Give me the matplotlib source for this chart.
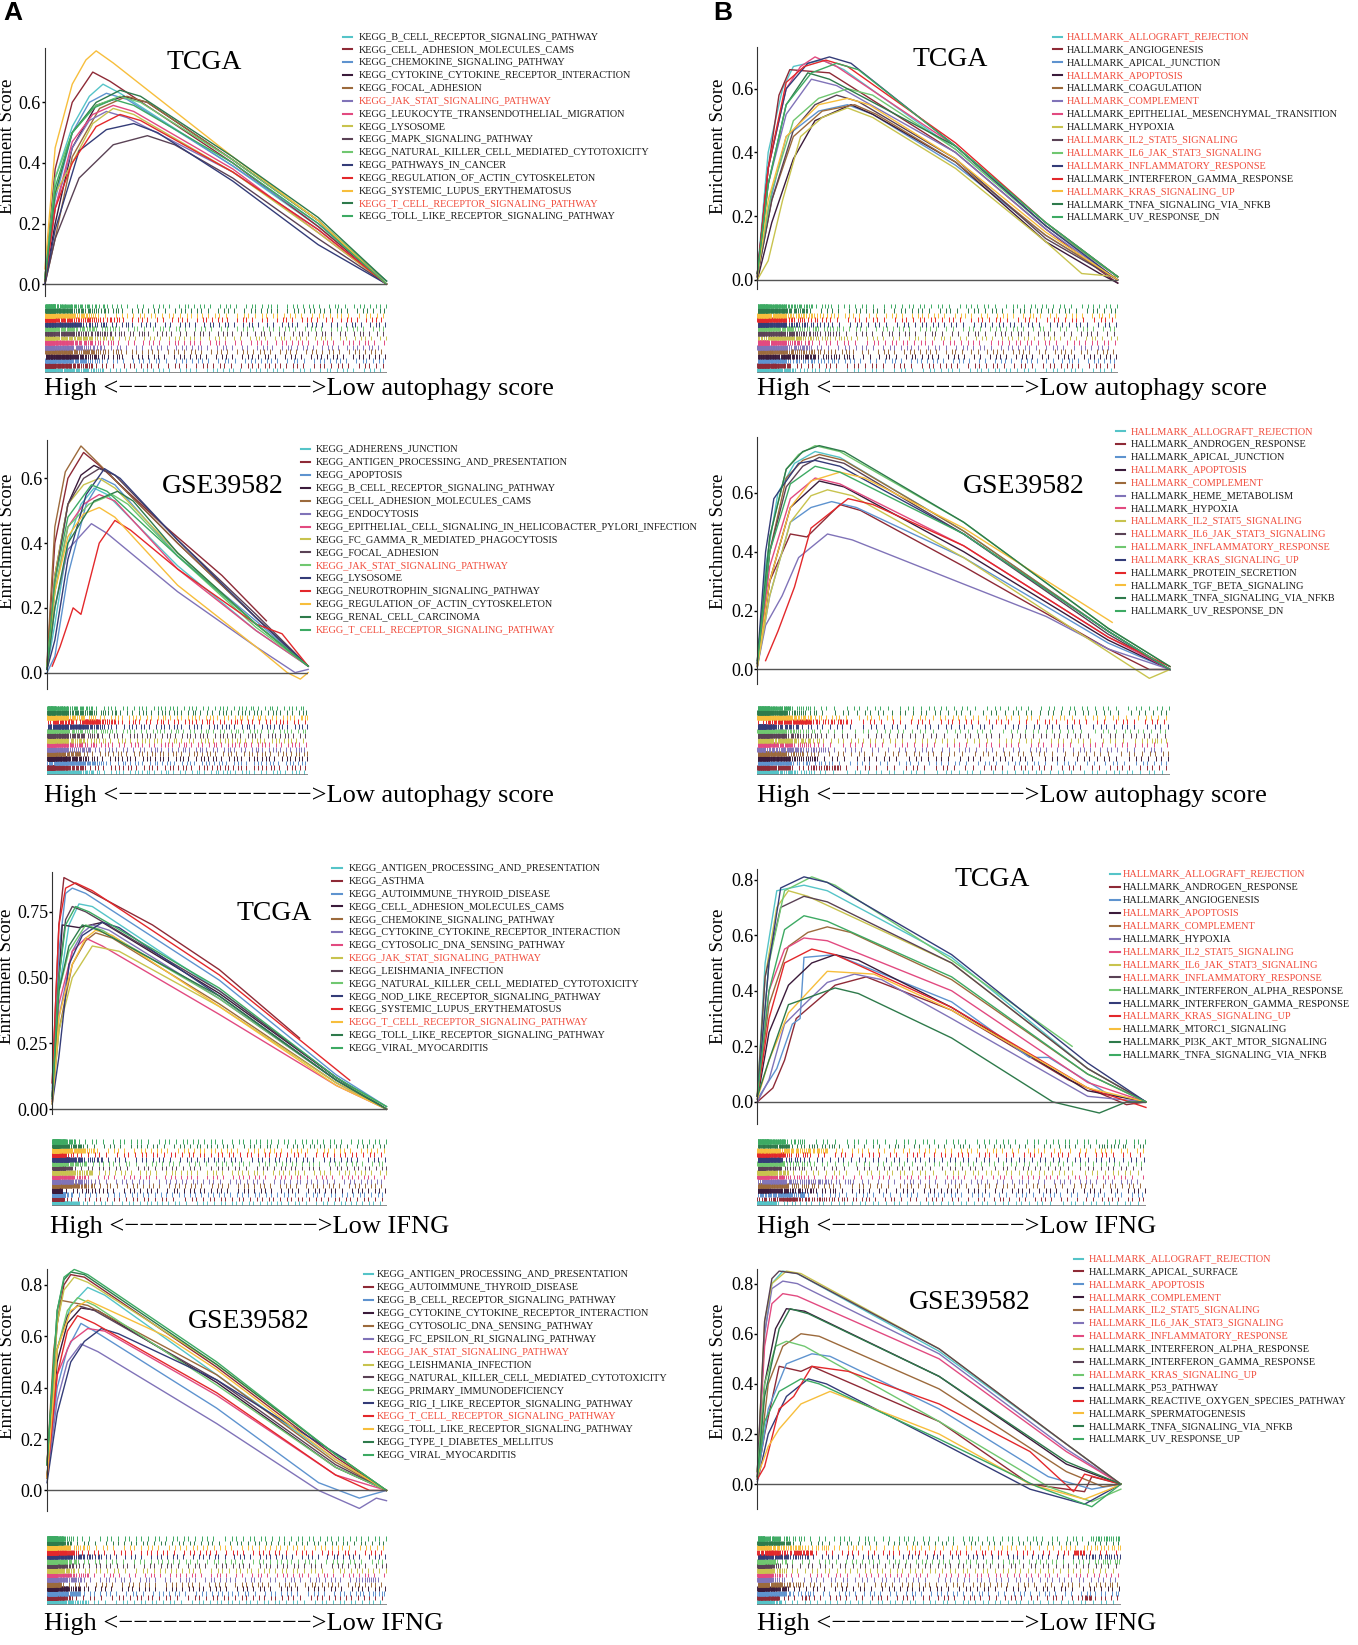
import matplotlib
matplotlib.use("Agg")
import matplotlib.pyplot as plt
from matplotlib.lines import Line2D
import numpy as np

plt.rcParams['font.family'] = ['Liberation Serif', 'DejaVu Serif']

# colour cycle used for the 15 gene sets of every panel
pal = ['#55C4C8', '#8E2A36', '#5E93CF', '#3B1B3B', '#9C6A3C', '#8073B8', '#E24A80',
       '#C8C34E', '#5A4255', '#70C770', '#343C78', '#E3282B', '#F7BE3C', '#2E7A4B', '#3DAA63']
red_txt = '#F04A3A'

# ---------------- data ----------------
a1_names = ['KEGG_B_CELL_RECEPTOR_SIGNALING_PATHWAY', 'KEGG_CELL_ADHESION_MOLECULES_CAMS',
            'KEGG_CHEMOKINE_SIGNALING_PATHWAY', 'KEGG_CYTOKINE_CYTOKINE_RECEPTOR_INTERACTION',
            'KEGG_FOCAL_ADHESION', 'KEGG_JAK_STAT_SIGNALING_PATHWAY',
            'KEGG_LEUKOCYTE_TRANSENDOTHELIAL_MIGRATION', 'KEGG_LYSOSOME', 'KEGG_MAPK_SIGNALING_PATHWAY',
            'KEGG_NATURAL_KILLER_CELL_MEDIATED_CYTOTOXICITY', 'KEGG_PATHWAYS_IN_CANCER',
            'KEGG_REGULATION_OF_ACTIN_CYTOSKELETON', 'KEGG_SYSTEMIC_LUPUS_ERYTHEMATOSUS',
            'KEGG_T_CELL_RECEPTOR_SIGNALING_PATHWAY', 'KEGG_TOLL_LIKE_RECEPTOR_SIGNALING_PATHWAY']
a1_red = [5, 13]
a1_curves = [
    [(0, .02), (.03, .35), (.08, .52), (.13, .62), (.17, .66), (.22, .63), (.55, .39), (.8, .19), (1, .01)],
    [(0, .02), (.03, .38), (.08, .60), (.14, .70), (.19, .67), (.55, .40), (.8, .19), (1, 0)],
    [(0, .01), (.03, .28), (.08, .50), (.13, .60), (.18, .63), (.24, .61), (.55, .39), (.8, .20), (1, .01)],
    [(0, .01), (.03, .20), (.08, .45), (.15, .59), (.23, .62), (.30, .60), (.55, .41), (.8, .21), (1, 0)],
    [(0, 0), (.03, .15), (.08, .42), (.16, .58), (.24, .62), (.30, .60), (.55, .41), (.8, .21), (1, 0)],
    [(0, .01), (.03, .25), (.08, .45), (.13, .54), (.18, .57), (.24, .55), (.55, .37), (.8, .18), (1, 0)],
    [(0, .01), (.03, .25), (.08, .47), (.14, .56), (.20, .59), (.26, .57), (.55, .38), (.8, .17), (1, 0)],
    [(0, .02), (.03, .30), (.08, .40), (.14, .53), (.20, .58), (.26, .56), (.55, .37), (.8, .17), (1, 0)],
    [(0, 0), (.03, .15), (.10, .35), (.20, .46), (.30, .49), (.38, .46), (.55, .35), (.8, .15), (1, 0)],
    [(0, .02), (.03, .35), (.08, .50), (.15, .59), (.22, .62), (.28, .60), (.55, .41), (.8, .21), (1, .01)],
    [(0, 0), (.03, .18), (.10, .44), (.18, .51), (.26, .53), (.33, .50), (.55, .34), (.8, .13), (1, 0)],
    [(0, .01), (.03, .25), (.08, .40), (.15, .52), (.22, .56), (.28, .54), (.55, .37), (.8, .18), (1, 0)],
    [(0, .05), (.03, .45), (.08, .66), (.12, .74), (.15, .77), (.20, .73), (.55, .42), (.8, .21), (1, 0)],
    [(0, .01), (.03, .30), (.08, .50), (.15, .60), (.22, .64), (.28, .62), (.55, .42), (.8, .22), (1, .01)],
    [(0, .02), (.03, .32), (.08, .50), (.14, .58), (.20, .61), (.26, .59), (.55, .40), (.8, .20), (1, 0)],
]

b1_names = ['HALLMARK_ALLOGRAFT_REJECTION', 'HALLMARK_ANGIOGENESIS', 'HALLMARK_APICAL_JUNCTION',
            'HALLMARK_APOPTOSIS', 'HALLMARK_COAGULATION', 'HALLMARK_COMPLEMENT',
            'HALLMARK_EPITHELIAL_MESENCHYMAL_TRANSITION', 'HALLMARK_HYPOXIA', 'HALLMARK_IL2_STAT5_SIGNALING',
            'HALLMARK_IL6_JAK_STAT3_SIGNALING', 'HALLMARK_INFLAMMATORY_RESPONSE',
            'HALLMARK_INTERFERON_GAMMA_RESPONSE', 'HALLMARK_KRAS_SIGNALING_UP',
            'HALLMARK_TNFA_SIGNALING_VIA_NFKB', 'HALLMARK_UV_RESPONSE_DN']
b1_red = [0, 3, 5, 8, 9, 10, 12]
b1_curves = [
    [(0, .02), (.03, .40), (.07, .60), (.10, .67), (.18, .69), (.24, .66), (.55, .41), (.8, .17), (1, .01)],
    [(0, .01), (.03, .35), (.06, .58), (.09, .66), (.20, .65), (.55, .40), (.8, .16), (.95, .03), (1, -.01)],
    [(0, .01), (.03, .22), (.08, .45), (.17, .53), (.25, .55), (.32, .52), (.55, .36), (.8, .14), (1, 0)],
    [(0, 0), (.04, .18), (.10, .38), (.16, .50), (.26, .55), (.32, .52), (.55, .37), (.8, .12), (.95, .02), (1, -.01)],
    [(0, .01), (.04, .25), (.10, .45), (.18, .53), (.27, .55), (.33, .52), (.55, .37), (.8, .14), (1, 0)],
    [(0, .01), (.03, .30), (.08, .52), (.15, .63), (.22, .61), (.55, .40), (.8, .16), (1, 0)],
    [(0, .02), (.03, .35), (.08, .60), (.12, .67), (.16, .70), (.22, .67), (.55, .42), (.8, .17), (1, .01)],
    [(0, 0), (.03, .06), (.07, .25), (.12, .45), (.18, .51), (.25, .54), (.32, .51), (.55, .35), (.8, .12), (.9, .02), (1, .01)],
    [(0, .01), (.04, .25), (.10, .47), (.16, .55), (.22, .58), (.28, .56), (.55, .38), (.8, .13), (1, 0)],
    [(0, .02), (.04, .28), (.10, .50), (.17, .57), (.25, .60), (.32, .58), (.55, .41), (.8, .17), (1, .01)],
    [(0, .02), (.03, .35), (.08, .60), (.14, .68), (.20, .70), (.26, .68), (.55, .42), (.8, .17), (1, 0)],
    [(0, .02), (.03, .35), (.08, .62), (.13, .67), (.19, .69), (.25, .67), (.55, .43), (.8, .18), (1, .01)],
    [(0, .01), (.03, .25), (.08, .45), (.17, .55), (.25, .57), (.31, .55), (.55, .38), (.8, .15), (1, 0)],
    [(0, .02), (.03, .30), (.08, .55), (.14, .65), (.20, .63), (.55, .42), (.8, .18), (1, .01)],
    [(0, .02), (.03, .30), (.08, .55), (.15, .65), (.22, .68), (.28, .66), (.55, .42), (.8, .18), (1, .01)],
]

a2_names = ['KEGG_ADHERENS_JUNCTION', 'KEGG_ANTIGEN_PROCESSING_AND_PRESENTATION', 'KEGG_APOPTOSIS',
            'KEGG_B_CELL_RECEPTOR_SIGNALING_PATHWAY', 'KEGG_CELL_ADHESION_MOLECULES_CAMS',
            'KEGG_ENDOCYTOSIS', 'KEGG_EPITHELIAL_CELL_SIGNALING_IN_HELICOBACTER_PYLORI_INFECTION',
            'KEGG_FC_GAMMA_R_MEDIATED_PHAGOCYTOSIS', 'KEGG_FOCAL_ADHESION', 'KEGG_JAK_STAT_SIGNALING_PATHWAY',
            'KEGG_LYSOSOME', 'KEGG_NEUROTROPHIN_SIGNALING_PATHWAY', 'KEGG_REGULATION_OF_ACTIN_CYTOSKELETON',
            'KEGG_RENAL_CELL_CARCINOMA', 'KEGG_T_CELL_RECEPTOR_SIGNALING_PATHWAY']
a2_red = [9, 14]
a2_curves = [
    [(0, .01), (.03, .15), (.08, .40), (.13, .52), (.18, .57), (.23, .55), (.5, .33), (.8, .13), (1, .02)],
    [(0, .02), (.03, .40), (.08, .60), (.14, .68), (.20, .64), (.44, .46), (.67, .30), (.84, .16)],
    [(0, 0), (.03, .05), (.08, .30), (.15, .52), (.21, .60), (.26, .58), (.5, .36), (.8, .16), (1, .02)],
    [(0, .01), (.03, .30), (.08, .52), (.13, .61), (.18, .64), (.23, .62), (.5, .40), (.8, .17), (1, .02)],
    [(0, .03), (.03, .45), (.07, .62), (.13, .70), (.18, .66), (.5, .40), (.8, .17), (1, .02)],
    [(0, .01), (.03, .20), (.08, .38), (.17, .46), (.23, .43), (.5, .25), (.8, .08), (.95, 0), (1, .01)],
    [(0, .02), (.03, .25), (.08, .45), (.14, .52), (.20, .55), (.26, .53), (.5, .32), (.8, .13), (1, .02)],
    [(0, .01), (.03, .30), (.08, .52), (.14, .58), (.20, .60), (.26, .57), (.5, .37), (.8, .15), (1, .02)],
    [(0, .01), (.03, .28), (.08, .52), (.14, .60), (.20, .63), (.26, .61), (.5, .41), (.8, .18), (1, .02)],
    [(0, .02), (.03, .25), (.08, .45), (.16, .52), (.25, .55), (.31, .52), (.5, .36), (.8, .14), (1, .02)],
    [(0, .01), (.03, .10), (.08, .35), (.15, .55), (.22, .63), (.28, .60), (.5, .41), (.8, .17), (1, .02)],
    [(.02, .02), (.05, .08), (.10, .20), (.13, .18), (.20, .40), (.26, .47), (.32, .44), (.5, .32), (.8, .15), (.9, .12), (1, .02)],
    [(0, .02), (.03, .25), (.08, .42), (.14, .49), (.20, .51), (.26, .48), (.5, .27), (.8, .08), (.92, 0), (.97, -.02), (1, 0)],
    [(0, .01), (.03, .20), (.08, .40), (.18, .53), (.27, .56), (.33, .53), (.5, .37), (.8, .15), (1, .02)],
    [(0, .02), (.03, .28), (.08, .48), (.17, .58), (.23, .56), (.5, .36), (.8, .15), (1, .02)],
]

b2_names = ['HALLMARK_ALLOGRAFT_REJECTION', 'HALLMARK_ANDROGEN_RESPONSE', 'HALLMARK_APICAL_JUNCTION',
            'HALLMARK_APOPTOSIS', 'HALLMARK_COMPLEMENT', 'HALLMARK_HEME_METABOLISM', 'HALLMARK_HYPOXIA',
            'HALLMARK_IL2_STAT5_SIGNALING', 'HALLMARK_IL6_JAK_STAT3_SIGNALING',
            'HALLMARK_INFLAMMATORY_RESPONSE', 'HALLMARK_KRAS_SIGNALING_UP', 'HALLMARK_PROTEIN_SECRETION',
            'HALLMARK_TGF_BETA_SIGNALING', 'HALLMARK_TNFA_SIGNALING_VIA_NFKB', 'HALLMARK_UV_RESPONSE_DN']
b2_red = [0, 3, 4, 7, 8, 9, 10]
b2_curves = [
    [(0, .02), (.02, .35), (.05, .60), (.09, .70), (.14, .74), (.20, .72), (.5, .47), (.85, .13), (1, 0)],
    [(0, .02), (.03, .30), (.08, .46), (.12, .45), (.20, .56), (.25, .54), (.5, .35), (.85, .07), (.95, 0), (1, 0)],
    [(0, .01), (.03, .25), (.08, .50), (.13, .55), (.18, .57), (.24, .55), (.5, .38), (.85, .09), (1, 0)],
    [(0, .01), (.03, .30), (.08, .55), (.15, .64), (.21, .62), (.5, .40), (.85, .10), (1, 0)],
    [(0, .02), (.03, .40), (.07, .65), (.11, .71), (.15, .73), (.21, .71), (.5, .47), (.85, .13), (1, 0)],
    [(0, .01), (.02, .15), (.06, .25), (.10, .38), (.17, .46), (.23, .44), (.5, .29), (.7, .18), (.85, .07), (1, 0)],
    [(0, .02), (.03, .35), (.08, .58), (.14, .65), (.20, .63), (.5, .42), (.85, .11), (1, 0)],
    [(0, .01), (.03, .25), (.08, .50), (.13, .59), (.17, .61), (.23, .59), (.5, .38), (.85, .06), (.95, -.03), (1, 0)],
    [(0, .02), (.03, .40), (.07, .62), (.11, .69), (.15, .72), (.21, .70), (.5, .46), (.85, .12), (1, 0)],
    [(0, .03), (.03, .45), (.07, .68), (.10, .73), (.14, .76), (.20, .74), (.5, .50), (.85, .14), (1, .01)],
    [(0, .03), (.02, .40), (.04, .58), (.10, .70), (.14, .71), (.20, .69), (.5, .46), (.85, .13), (1, 0)],
    [(.02, .03), (.05, .13), (.09, .28), (.13, .48), (.22, .58), (.28, .56), (.5, .42), (.85, .11), (1, .01)],
    [(0, .01), (.03, .30), (.08, .55), (.13, .64), (.20, .67), (.26, .65), (.5, .48), (.86, .16)],
    [(0, .03), (.03, .45), (.07, .68), (.11, .74), (.15, .76), (.21, .74), (.5, .50), (.85, .14), (1, .01)],
    [(0, .02), (.03, .40), (.08, .63), (.14, .69), (.20, .67), (.5, .46), (.85, .13), (1, 0)],
]

a3_names = ['KEGG_ANTIGEN_PROCESSING_AND_PRESENTATION', 'KEGG_ASTHMA', 'KEGG_AUTOIMMUNE_THYROID_DISEASE',
            'KEGG_CELL_ADHESION_MOLECULES_CAMS', 'KEGG_CHEMOKINE_SIGNALING_PATHWAY',
            'KEGG_CYTOKINE_CYTOKINE_RECEPTOR_INTERACTION', 'KEGG_CYTOSOLIC_DNA_SENSING_PATHWAY',
            'KEGG_JAK_STAT_SIGNALING_PATHWAY', 'KEGG_LEISHMANIA_INFECTION',
            'KEGG_NATURAL_KILLER_CELL_MEDIATED_CYTOTOXICITY', 'KEGG_NOD_LIKE_RECEPTOR_SIGNALING_PATHWAY',
            'KEGG_SYSTEMIC_LUPUS_ERYTHEMATOSUS', 'KEGG_T_CELL_RECEPTOR_SIGNALING_PATHWAY',
            'KEGG_TOLL_LIKE_RECEPTOR_SIGNALING_PATHWAY', 'KEGG_VIRAL_MYOCARDITIS']
a3_red = [7, 12]
a3_curves = [
    [(0, .05), (.02, .45), (.05, .70), (.08, .78), (.12, .77), (.5, .45), (.85, .12), (1, 0)],
    [(0, .10), (.02, .70), (.035, .88), (.08, .85), (.3, .70), (.5, .53), (.74, .27)],
    [(0, .08), (.02, .60), (.04, .82), (.06, .84), (.10, .82), (.5, .49), (.85, .13), (1, .01)],
    [(0, .05), (.02, .50), (.03, .70), (.08, .69), (.15, .71), (.5, .44), (.85, .12), (1, 0)],
    [(0, .03), (.02, .30), (.06, .55), (.10, .64), (.13, .67), (.18, .65), (.5, .40), (.85, .10), (1, 0)],
    [(0, .03), (.02, .35), (.06, .60), (.09, .67), (.12, .70), (.17, .68), (.5, .42), (.85, .11), (1, 0)],
    [(0, .03), (.02, .40), (.06, .60), (.10, .65), (.15, .62), (.5, .36), (.85, .09), (1, 0)],
    [(0, .02), (.02, .30), (.06, .50), (.12, .62), (.2, .60), (.5, .39), (.85, .10), (1, 0)],
    [(0, .05), (.02, .50), (.04, .72), (.06, .77), (.10, .75), (.5, .45), (.85, .12), (1, 0)],
    [(0, .04), (.02, .45), (.05, .60), (.10, .70), (.15, .68), (.5, .42), (.85, .11), (1, .01)],
    [(0, .02), (.02, .20), (.05, .55), (.09, .66), (.15, .71), (.20, .69), (.5, .43), (.85, .11), (1, 0)],
    [(0, .10), (.02, .70), (.04, .84), (.07, .86), (.12, .83), (.5, .51), (.89, .11)],
    [(0, .02), (.02, .35), (.06, .55), (.10, .65), (.13, .68), (.18, .66), (.5, .39), (.85, .09), (1, 0)],
    [(0, .04), (.02, .45), (.05, .62), (.09, .70), (.14, .68), (.5, .43), (.85, .11), (1, 0)],
    [(0, .05), (.02, .50), (.04, .70), (.07, .77), (.11, .75), (.5, .46), (.85, .12), (1, .01)],
]

b3_names = ['HALLMARK_ALLOGRAFT_REJECTION', 'HALLMARK_ANDROGEN_RESPONSE', 'HALLMARK_ANGIOGENESIS',
            'HALLMARK_APOPTOSIS', 'HALLMARK_COMPLEMENT', 'HALLMARK_HYPOXIA', 'HALLMARK_IL2_STAT5_SIGNALING',
            'HALLMARK_IL6_JAK_STAT3_SIGNALING', 'HALLMARK_INFLAMMATORY_RESPONSE',
            'HALLMARK_INTERFERON_ALPHA_RESPONSE', 'HALLMARK_INTERFERON_GAMMA_RESPONSE',
            'HALLMARK_KRAS_SIGNALING_UP', 'HALLMARK_MTORC1_SIGNALING', 'HALLMARK_PI3K_AKT_MTOR_SIGNALING',
            'HALLMARK_TNFA_SIGNALING_VIA_NFKB']
b3_red = [0, 3, 4, 6, 7, 8, 11]
b3_curves = [
    [(0, .02), (.02, .50), (.05, .76), (.12, .78), (.18, .76), (.5, .52), (.85, .12), (1, 0)],
    [(0, 0), (.04, .05), (.07, .15), (.10, .30), (.20, .42), (.28, .45), (.5, .33), (.8, .08), (.95, -.01), (1, 0)],
    [(0, .01), (.05, .12), (.09, .28), (.11, .30), (.12, .52), (.20, .53), (.5, .36), (.7, .16), (.75, .16), (.9, .03), (1, 0)],
    [(0, .01), (.03, .25), (.08, .42), (.14, .50), (.20, .53), (.26, .51), (.5, .34), (.85, .04), (1, 0)],
    [(0, .02), (.03, .35), (.08, .56), (.13, .61), (.18, .63), (.24, .61), (.5, .44), (.85, .10), (1, 0)],
    [(0, 0), (.03, .08), (.07, .28), (.12, .35), (.18, .43), (.25, .46), (.32, .44), (.5, .30), (.85, .02), (1, 0)],
    [(0, .02), (.03, .40), (.07, .55), (.12, .59), (.18, .58), (.5, .40), (.85, .07), (1, 0)],
    [(0, .03), (.02, .45), (.05, .70), (.08, .76), (.13, .74), (.5, .50), (.85, .12), (1, 0)],
    [(0, .02), (.02, .45), (.06, .70), (.12, .74), (.18, .72), (.5, .50), (.85, .12), (1, 0)],
    [(0, .02), (.03, .50), (.07, .76), (.14, .81), (.20, .78), (.5, .51), (.81, .20)],
    [(0, .02), (.03, .50), (.06, .77), (.12, .81), (.18, .79), (.5, .53), (.85, .14), (1, 0)],
    [(0, .02), (.03, .30), (.07, .50), (.14, .55), (.20, .53), (.5, .34), (.85, .05), (1, -.02)],
    [(0, .01), (.03, .15), (.08, .32), (.18, .47), (.3, .46), (.5, .33), (.85, .05), (1, 0)],
    [(0, .02), (.03, .15), (.08, .35), (.20, .41), (.26, .39), (.5, .23), (.76, 0), (.88, -.04), (.95, 0), (1, 0)],
    [(0, .02), (.03, .40), (.07, .62), (.12, .67), (.18, .65), (.5, .45), (.85, .10), (1, 0)],
]

a4_names = ['KEGG_ANTIGEN_PROCESSING_AND_PRESENTATION', 'KEGG_AUTOIMMUNE_THYROID_DISEASE',
            'KEGG_B_CELL_RECEPTOR_SIGNALING_PATHWAY', 'KEGG_CYTOKINE_CYTOKINE_RECEPTOR_INTERACTION',
            'KEGG_CYTOSOLIC_DNA_SENSING_PATHWAY', 'KEGG_FC_EPSILON_RI_SIGNALING_PATHWAY',
            'KEGG_JAK_STAT_SIGNALING_PATHWAY', 'KEGG_LEISHMANIA_INFECTION',
            'KEGG_NATURAL_KILLER_CELL_MEDIATED_CYTOTOXICITY', 'KEGG_PRIMARY_IMMUNODEFICIENCY',
            'KEGG_RIG_I_LIKE_RECEPTOR_SIGNALING_PATHWAY', 'KEGG_T_CELL_RECEPTOR_SIGNALING_PATHWAY',
            'KEGG_TOLL_LIKE_RECEPTOR_SIGNALING_PATHWAY', 'KEGG_TYPE_I_DIABETES_MELLITUS',
            'KEGG_VIRAL_MYOCARDITIS']
a4_red = [6, 11]
a4_curves = [
    [(0, .05), (.03, .55), (.07, .72), (.12, .79), (.17, .76), (.5, .45), (.85, .12), (1, 0)],
    [(0, .10), (.03, .65), (.05, .80), (.07, .84), (.11, .83), (.5, .48), (.85, .13), (1, 0)],
    [(0, .05), (.03, .40), (.06, .55), (.10, .65), (.14, .62), (.5, .32), (.8, .03), (.92, -.03), (1, 0)],
    [(0, .05), (.03, .50), (.06, .65), (.10, .71), (.15, .70), (.5, .42), (.85, .09), (1, 0)],
    [(0, .10), (.02, .55), (.04, .74), (.12, .72), (.5, .45), (.85, .11), (1, 0)],
    [(0, .05), (.03, .35), (.06, .50), (.10, .57), (.15, .54), (.5, .26), (.8, 0), (.92, -.07), (.97, -.03), (1, -.04)],
    [(0, .05), (.03, .45), (.07, .58), (.12, .63), (.17, .62), (.5, .37), (.85, .06), (1, 0)],
    [(0, .10), (.03, .65), (.05, .78), (.08, .83), (.12, .81), (.5, .49), (.85, .14), (1, 0)],
    [(0, .05), (.03, .55), (.06, .68), (.09, .72), (.14, .70), (.5, .43), (.85, .10), (1, 0)],
    [(0, .05), (.03, .55), (.06, .70), (.09, .75), (.14, .72), (.5, .41), (.85, .09), (1, 0)],
    [(0, .03), (.03, .30), (.07, .50), (.11, .58), (.16, .63), (.21, .61), (.5, .43), (.88, .12)],
    [(0, .05), (.03, .45), (.06, .62), (.09, .68), (.14, .65), (.5, .38), (.85, .06), (.95, 0), (1, 0)],
    [(0, .05), (.03, .55), (.07, .70), (.12, .74), (.35, .60), (.5, .47), (.85, .12), (1, 0)],
    [(0, .10), (.03, .70), (.05, .82), (.07, .85), (.11, .84), (.5, .49), (.85, .14), (1, 0)],
    [(0, .10), (.03, .70), (.05, .83), (.08, .86), (.12, .84), (.5, .50), (.85, .14), (1, 0)],
]

b4_names = ['HALLMARK_ALLOGRAFT_REJECTION', 'HALLMARK_APICAL_SURFACE', 'HALLMARK_APOPTOSIS',
            'HALLMARK_COMPLEMENT', 'HALLMARK_IL2_STAT5_SIGNALING', 'HALLMARK_IL6_JAK_STAT3_SIGNALING',
            'HALLMARK_INFLAMMATORY_RESPONSE', 'HALLMARK_INTERFERON_ALPHA_RESPONSE',
            'HALLMARK_INTERFERON_GAMMA_RESPONSE', 'HALLMARK_KRAS_SIGNALING_UP', 'HALLMARK_P53_PATHWAY',
            'HALLMARK_REACTIVE_OXYGEN_SPECIES_PATHWAY', 'HALLMARK_SPERMATOGENESIS',
            'HALLMARK_TNFA_SIGNALING_VIA_NFKB', 'HALLMARK_UV_RESPONSE_UP']
b4_red = [0, 2, 3, 4, 5, 6, 9]
b4_curves = [
    [(0, .05), (.02, .60), (.04, .80), (.07, .85), (.11, .84), (.5, .53), (.85, .16), (1, 0)],
    [(0, .03), (.02, .20), (.06, .47), (.12, .45), (.15, .47), (.5, .25), (.75, 0), (.9, -.03), (.92, .03), (1, 0)],
    [(0, .02), (.03, .30), (.08, .48), (.15, .52), (.20, .51), (.5, .30), (.8, .03), (.92, -.02), (1, 0)],
    [(0, .03), (.02, .40), (.05, .62), (.08, .70), (.13, .69), (.5, .43), (.85, .08), (1, 0)],
    [(0, .02), (.03, .40), (.07, .55), (.12, .60), (.17, .59), (.5, .38), (.85, .05), (.95, -.01), (1, 0)],
    [(0, .05), (.02, .60), (.04, .78), (.07, .81), (.11, .80), (.5, .52), (.85, .14), (1, 0)],
    [(0, .04), (.02, .55), (.04, .72), (.07, .76), (.11, .75), (.5, .50), (.85, .13), (1, 0)],
    [(0, .05), (.02, .65), (.04, .80), (.08, .85), (.12, .84), (.5, .54), (.85, .16), (1, 0)],
    [(0, .05), (.02, .65), (.04, .82), (.06, .85), (.11, .84), (.5, .54), (.85, .16), (1, 0)],
    [(0, .05), (.02, .40), (.05, .55), (.08, .57), (.13, .55), (.5, .25), (.8, -.01), (.92, -.07), (1, -.02)],
    [(0, .01), (.03, .20), (.08, .35), (.14, .42), (.19, .40), (.5, .17), (.75, -.02), (.9, -.08), (1, 0)],
    [(0, .02), (.02, .07), (.06, .30), (.10, .35), (.15, .47), (.25, .45), (.5, .32), (.75, .13), (.87, -.03), (.9, .04), (1, 0)],
    [(0, .03), (.03, .15), (.06, .22), (.12, .32), (.20, .37), (.5, .20), (.75, 0), (.9, -.06), (.97, -.02), (1, 0)],
    [(0, .03), (.02, .35), (.06, .62), (.09, .70), (.14, .68), (.5, .43), (.85, .09), (1, 0)],
    [(0, .03), (.02, .25), (.06, .37), (.12, .42), (.17, .40), (.5, .18), (.77, -.01), (.92, -.09), (1, 0)],
]

dash = '\u2212' * 13
lab_auto = 'High <' + dash + '>Low autophagy score'
lab_ifng = 'High <' + dash + '>Low IFNG'

# layout measured on a 1300 x 1575 grid of the reference
W, H = 1300.0, 1575.0
fig = plt.figure(figsize=(13.58, 16.45), dpi=100)


def fx(x):
    return x / W


def fy(y):
    return 1 - y / H


def rug_hits(pts, row, k_up=110.0, k_base=55.0):
    # hit positions follow the curve: dense where it climbs, sparse where it falls
    xs = [p[0] for p in pts]
    ys = [p[1] for p in pts]
    if xs[0] > 0:
        xs = [0.0] + xs
        ys = [ys[0]] + ys
    if xs[-1] < 1:
        xs = xs + [1.0]
        ys = ys + [ys[-1]]
    xs = np.array(xs)
    ys = np.array(ys)
    mass = np.clip(np.diff(ys), 0, None) * k_up + np.diff(xs) * k_base
    cum = np.concatenate([[0], np.cumsum(mass)])
    n = int(round(cum[-1]))
    q = np.sort((np.arange(n) * 0.6180339887 + row * 0.377) % 1.0) * cum[-1]
    return np.interp(q, cum, xs)


def panel(names, red, curves, title, lab, xl, xr, y0, ppu, lo, hi, yt, fmt,
          tpos, leg, rug_y, lab_x, lab_y, ylab_x, ylab_y):
    top = y0 - hi * ppu
    bot = y0 - lo * ppu
    ax = fig.add_axes([fx(xl), fy(bot), (xr - xl) / W, (bot - top) / H])
    for i, pts in enumerate(curves):
        ax.plot([p[0] for p in pts], [p[1] for p in pts], color=pal[i], lw=1.0, clip_on=False)
    ax.axhline(0, color='#555555', lw=1.0)
    ax.set_xlim(0, 1)
    ax.set_ylim(lo, hi)
    ax.set_yticks(yt)
    ax.set_yticklabels([fmt % v for v in yt])
    ax.set_xticks([])
    for s in ['top', 'right', 'bottom']:
        ax.spines[s].set_visible(False)
    ax.spines['left'].set_color('#333333')
    ax.tick_params(axis='y', length=2.5, width=1, labelsize=13, pad=0.5)
    ax.patch.set_alpha(0)
    fig.text(fx(ylab_x), fy(ylab_y), 'Enrichment Score', rotation=90, ha='center', va='center',
             fontsize=13.5)

    # rug of gene hits
    rax = fig.add_axes([fx(xl), fy(rug_y[1]), (xr - xl) / W, (rug_y[1] - rug_y[0]) / H])
    for i, pts in enumerate(curves):
        rax.vlines(rug_hits(pts, i), i + 0.1, i + 1.15, color=pal[i], lw=0.7)
    rax.axhline(0, color='#777777', lw=1.2)
    rax.set_xlim(0, 1)
    rax.set_ylim(0, 15.3)
    rax.axis('off')

    fig.text(fx(tpos[0]), fy(tpos[1]), title, ha='center', va='center', fontsize=20)
    fig.text(fx(lab_x), fy(lab_y), lab, ha='left', va='center', fontsize=19)

    mx, tx, ly0, ly1 = leg
    step = (ly1 - ly0) / 14.0
    for i, nm in enumerate(names):
        yy = fy(ly0 + i * step)
        fig.add_artist(Line2D([fx(mx), fx(mx + 9)], [yy, yy], transform=fig.transFigure,
                              color=pal[i], lw=1.5))
        fig.text(fx(tx), yy, nm, ha='left', va='center', fontsize=7.4,
                 color=red_txt if i in red else '#1a1a1a')


t4 = [0, 0.2, 0.4, 0.6]
t5 = [0, 0.2, 0.4, 0.6, 0.8]
panel(a1_names, a1_red, a1_curves, 'TCGA', lab_auto, 43, 370, 272, 290, -0.04, 0.78, t4, '%.1f',
      (195, 60), (328, 343, 35, 207), (290, 357), 42, 372, 7, 140)
panel(b1_names, b1_red, b1_curves, 'TCGA', lab_auto, 725, 1070, 268, 305, -0.03, 0.73, t4, '%.1f',
      (910, 57), (1008, 1021, 35, 208), (290, 357), 725, 372, 688, 140)
panel(a2_names, a2_red, a2_curves, 'GSE39582', lab_auto, 45, 295, 644, 310, -0.05, 0.72, t4, '%.1f',
      (213, 466), (288, 302, 430, 603), (675, 742), 42, 762, 7, 518)
panel(b2_names, b2_red, b2_curves, 'GSE39582', lab_auto, 725, 1120, 641, 282, -0.05, 0.79, t4, '%.1f',
      (980, 466), (1068, 1082, 413, 585), (675, 742), 725, 762, 688, 518)
panel(a3_names, a3_red, a3_curves, 'TCGA', lab_ifng, 50, 370, 1062, 252, -0.02, 0.90,
      [0, 0.25, 0.5, 0.75], '%.2f', (262, 875), (318, 334, 831, 1003), (1090, 1155), 48, 1175, 6, 935)
panel(b3_names, b3_red, b3_curves, 'TCGA', lab_ifng, 725, 1097, 1055, 266, -0.08, 0.84, t5, '%.1f',
      (950, 842), (1063, 1075, 837, 1010), (1090, 1155), 725, 1175, 688, 935)
panel(a4_names, a4_red, a4_curves, 'GSE39582', lab_ifng, 45, 370, 1427, 246, -0.08, 0.86, t5, '%.1f',
      (238, 1265), (348, 361, 1220, 1393), (1470, 1537), 42, 1555, 7, 1313)
panel(b4_names, b4_red, b4_curves, 'GSE39582', lab_ifng, 725, 1073, 1421, 240, -0.10, 0.86, t5, '%.1f',
      (928, 1247), (1028, 1042, 1205, 1378), (1470, 1537), 725, 1555, 688, 1313)

fig.text(fx(3), fy(12), 'A', fontsize=19, fontweight='bold', family='Liberation Sans',
         ha='left', va='center')
fig.text(fx(683), fy(12), 'B', fontsize=19, fontweight='bold', family='Liberation Sans',
         ha='left', va='center')

fig.savefig('out.png', dpi=100)
